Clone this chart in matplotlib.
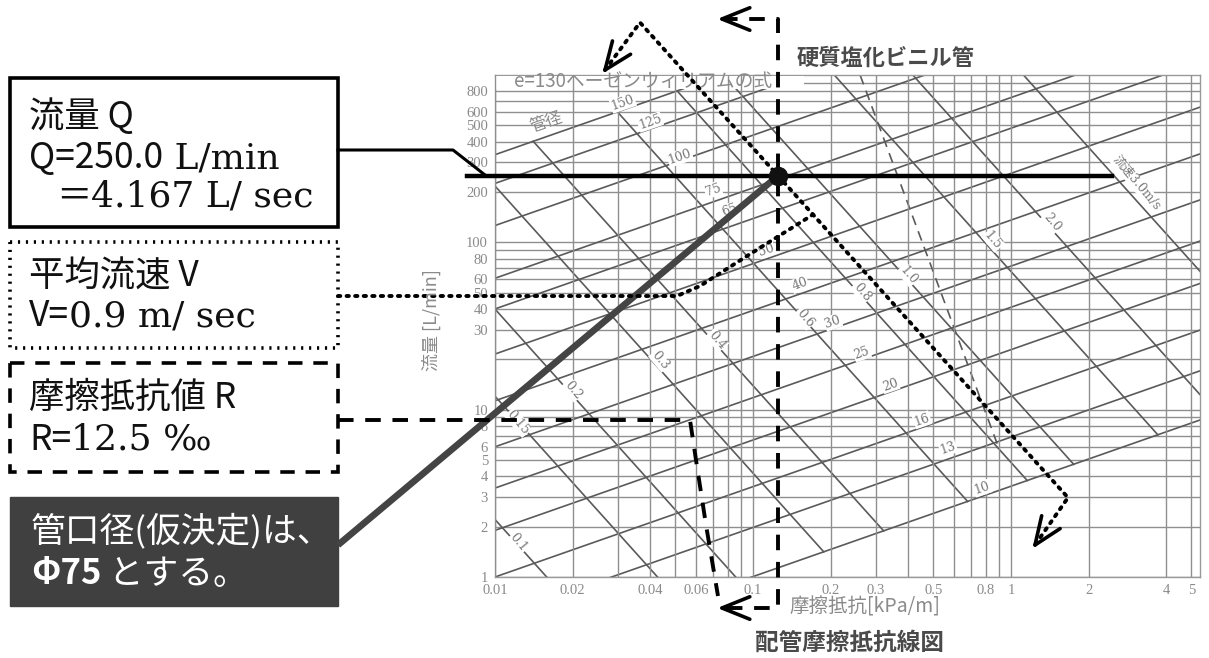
import numpy as np
import matplotlib
matplotlib.use('Agg')
import matplotlib.pyplot as plt
from matplotlib.patches import Rectangle

plt.rcParams['font.family'] = ['Noto Sans CJK JP', 'DejaVu Sans']

# ---- chart data (Hazen-Williams chart) ----
# pipe diameter lines: flow [L/min] at 0.01 kPa/m and at 10 kPa/m
diameters = [10, 13, 16, 20, 25, 30, 40, 50, 65, 75, 100, 125, 150]
q_at_001 = [0.29, 0.57, 1.0, 1.9, 3.4, 6.0, 11.3, 21.5, 40, 61, 126, 225, 334]
q_at_10 = [12.1, 23.8, 41.7, 79.2, 142, 250, 471, 896, 1667, 2543, 5252, 9378, 13921]
# label points for diameter lines (kPa/m, L/min)
dia_lab_x = [0.773, 0.57, 0.452, 0.34, 0.264, 0.204, 0.152, 0.113, 0.0814, 0.070, 0.0521, 0.0399, 0.0313]
dia_lab_q = [3.4, 5.9, 8.7, 14.1, 21.8, 33.4, 56, 90, 156, 206, 324, 524, 681]

# velocity lines: end on the 150 line (top) and on the 10 line (bottom)
velocities = [0.1, 0.15, 0.2, 0.3, 0.4, 0.6, 0.8, 1.0, 1.5, 2.0, 3.0]
v_top_x = [0.00108, 0.00229, 0.0039, 0.00826, 0.01406, 0.0298, 0.0508, 0.0767, 0.1626, 0.277, 0.587]
v_top_q = [100.5, 150.7, 200.9, 301.4, 401.8, 602.7, 803.6, 1004.5, 1506.8, 2009, 3013]
v_bot_x = [0.0246, 0.0522, 0.0887, 0.188, 0.321, 0.679, 1.156, 1.75, 3.71, 6.31, 13.4]
v_bot_q = [0.471, 0.707, 0.942, 1.414, 1.885, 2.827, 3.770, 4.712, 7.068, 9.42, 14.14]
v_labels = ['0.1', '0.15', '0.2', '0.3', '0.4', '0.6', '0.8', '1.0', '1.5', '2.0', '流速3.0m/s']
v_lab_x = [0.0123, 0.0123, 0.020, 0.0437, 0.0725, 0.159, 0.264, 0.399, 0.851, 1.44, 3.07]
v_lab_q = [1.6, 8.4, 13.1, 19.8, 26.1, 35.3, 50.5, 63.8, 103, 132, 226]

# dashed guide line
guide_x = [0.26, 0.90]
guide_q = [1000, 5.8]

# grid and ticks
x_grid = [0.01, 0.02, 0.03, 0.04, 0.05, 0.06, 0.07, 0.08, 0.09,
          0.1, 0.2, 0.3, 0.4, 0.5, 0.6, 0.7, 0.8, 0.9, 1, 2, 4, 5]
y_grid = [1, 2, 3, 4, 5, 6, 7, 8, 9, 10, 20, 30, 40, 50, 60, 70, 80, 90,
          100, 200, 300, 400, 500, 600, 700, 800, 900]
x_ticks = [0.01, 0.02, 0.04, 0.06, 0.1, 0.2, 0.3, 0.5, 0.8, 1, 2, 4, 5]
x_ticklabels = ['0.01', '0.02', '0.04', '0.06', '0.1', '0.2', '0.3', '0.5', '0.8', '1', '2', '4', '5']
y_ticks = [1, 2, 3, 4, 5, 6, 8, 10, 30, 40, 50, 60, 80, 100, 200, 300, 400, 500, 600, 800]

# design point
Q_design = 250.0
R_design = 0.125

W, H = 1209, 658
fig = plt.figure(figsize=(W / 100, H / 100), dpi=100)
ax = fig.add_axes([495 / W, 1 - 577 / H, (1200 - 495) / W, (577 - 75) / H])
ax.set_xscale('log')
ax.set_yscale('log')
ax.set_xlim(0.01, 5.4)
ax.set_ylim(1, 1000)

gcol = '#8f8f8f'
lcol = '#5a5a5a'
ax.hlines(y_grid, 0.01, 5.4, color=gcol, lw=1.0, zorder=1)
for q0, q1 in zip(q_at_001, q_at_10):
    ax.plot([0.01, 10], [q0, q1], color=lcol, lw=1.2, zorder=2)
for xt, qt, xb, qb in zip(v_top_x, v_top_q, v_bot_x, v_bot_q):
    ax.plot([xt, xb], [qt, qb], color=lcol, lw=1.2, zorder=2)
ax.plot(guide_x, guide_q, color=lcol, lw=1.2, ls=(0, (6, 4)), zorder=2)

# white band under the chart title
ax.add_patch(Rectangle((0.0101, 830), 0.158 - 0.0101, 990 - 830, color='white', zorder=3, lw=0))
ax.vlines(x_grid, 1, 1000, color=gcol, lw=1.0, zorder=4)

for s, x, q in zip(diameters, dia_lab_x, dia_lab_q):
    ax.text(x, q, str(s), rotation=19, ha='center', va='center', fontsize=9,
            family='DejaVu Serif', color='#777777', zorder=5,
            bbox=dict(boxstyle='square,pad=0.05', fc='white', ec='none'))
for s, x, q in zip(v_labels, v_lab_x, v_lab_q):
    ax.text(x, q, s, rotation=-50, ha='center', va='center', fontsize=9,
            family=['DejaVu Serif', 'Noto Sans CJK JP'], color='#777777', zorder=5,
            bbox=dict(boxstyle='square,pad=0.05', fc='white', ec='none'))
ax.text(0.0118, 915, 'e=130ヘーゼンウィリアムの式', fontsize=13.5, color='#8a8a8a',
        ha='left', va='center', zorder=6)
ax.text(0.0158, 520, '管径', rotation=19, fontsize=12, color='#8a8a8a',
        ha='center', va='center', zorder=6)

for sp in ax.spines.values():
    sp.set_color('#999999')
    sp.set_linewidth(1.0)
ax.set_xticks(x_ticks)
ax.set_xticklabels(x_ticklabels)
ax.set_yticks(y_ticks)
ax.set_yticklabels([str(v) for v in y_ticks])
ax.xaxis.set_minor_locator(matplotlib.ticker.NullLocator())
ax.yaxis.set_minor_locator(matplotlib.ticker.NullLocator())
ax.tick_params(length=0, labelsize=10.5, labelcolor='#8a8a8a', pad=5)
for lab in ax.get_xticklabels() + ax.get_yticklabels():
    lab.set_family('Liberation Serif')

# ---- overlay in pixel coordinates ----
ov = fig.add_axes([0, 0, 1, 1], zorder=10)
ov.set_xlim(0, W)
ov.set_ylim(H, 0)
ov.axis('off')
ov.patch.set_alpha(0)
renderer = fig.canvas.get_renderer()


def to_px(x, y):
    d = ax.transData.transform((x, y))
    return ov.transData.inverted().transform(d)


def head(tip, frm, length=30, ang=22, lw=2.6):
    tip = np.array(tip, float)
    v = np.array(frm, float) - tip
    v = v / np.hypot(*v)
    for a in (ang, -ang):
        r = np.radians(a)
        rot = np.array([[np.cos(r), -np.sin(r)], [np.sin(r), np.cos(r)]])
        e = tip + length * rot.dot(v)
        ov.plot([tip[0], e[0]], [tip[1], e[1]], color='k', lw=lw, solid_capstyle='round')


def seq(x, y, parts, color='#111111'):
    # write text pieces one after another on one baseline
    for s, kw in parts:
        t = ov.text(x, y, s, ha='left', va='baseline', color=color, **kw)
        bb = t.get_window_extent(renderer)
        x = ov.transData.inverted().transform((bb.x1, bb.y0))[0]


ov.text(431, 320, '流量 [L/min]', rotation=90, fontsize=13, color='#8a8a8a', ha='center', va='center')
ov.text(789, 607, '摩擦抵抗[kPa/m]', fontsize=14, color='#8a8a8a', ha='left', va='center')
ov.text(849, 643, '配管摩擦抵抗線図', fontsize=17, color='#4a4a4a', weight='bold', ha='center', va='center')
ov.text(886, 58, '硬質塩化ビニル管', fontsize=16, color='#4a4a4a', weight='bold', ha='center', va='center')

dot_x, dot_y = to_px(R_design, Q_design)

# Q leader
ov.plot([338, 453, 486], [150, 150, dot_y], color='k', lw=2.2)
qx_end = to_px(2.46, Q_design)[0]
ov.plot([467, qx_end], [dot_y, dot_y], color='k', lw=3.2)

# thick leader to diameter box
ov.plot([338, dot_x], [545, dot_y], color='#444444', lw=4.8, solid_capstyle='butt')

# velocity dotted path through the point
dots = dict(color='k', lw=2.8, ls=(0, (0.6, 1.6)), dash_capstyle='round')
sl = 1.11
top = (640, dot_y - (dot_x - 640) * sl)
bot = (1068, dot_y + (1068 - dot_x) * sl)
ov.plot([605, top[0], bot[0], 1035], [70, top[1], bot[1], 545], **dots)
head((605, 70), top)
head((1035, 545), bot)
ov.plot([338, 677, 700, 747, 813], [296, 296, 286, 256, dot_y + (813 - dot_x) * sl], **dots)

# friction dashed path
dash = dict(color='k', lw=2.8, ls=(0, (4, 3)))
ov.plot([722, dot_x, dot_x, 722], [19, 19, 608, 608], **dash)
head((722, 19), (dot_x, 19))
head((722, 608), (dot_x, 608))
ov.plot([338, 690, 696, 706, 718], [420, 420, 460, 525, 596], **dash)

ov.plot(dot_x, dot_y, 'o', ms=13, color='#111111', zorder=12)

# boxes
ov.add_patch(Rectangle((10, 78), 328, 149, fill=False, ec='k', lw=2.6))
ov.add_patch(Rectangle((10, 242), 328, 106, fill=False, ec='k', lw=2.6, ls=(0, (0.6, 1.6))))
ov.add_patch(Rectangle((10, 363), 328, 109, fill=False, ec='k', lw=2.6, ls=(0, (4, 3))))
ov.add_patch(Rectangle((10, 497), 328, 109, fc='#404040', ec='#404040', lw=1))

sans = dict(fontsize=25.5)
serif = dict(fontsize=26, family=['DejaVu Serif', 'Noto Sans CJK JP'])
seq(29, 127, [('流量 Q', sans)])
seq(29, 168, [('Q=250.0', sans), (' L/min', serif)])
seq(56, 207, [('＝', sans), ('4.167 L/ sec', serif)])
seq(29, 287, [('平均流速 V', sans)])
seq(29, 326, [('V=', sans), ('0.9 m/ sec', serif)])
seq(29, 408, [('摩擦抵抗値 R', sans)])
seq(29, 450, [('R=', sans), ('12.5 ‰', serif)])
seq(31, 541, [('管口径(仮決定)は、', dict(fontsize=25))], color='white')
seq(31, 584, [('Φ75', dict(fontsize=25, weight='bold')), (' とする。', dict(fontsize=25))], color='white')

fig.savefig('out.png', dpi=100)
